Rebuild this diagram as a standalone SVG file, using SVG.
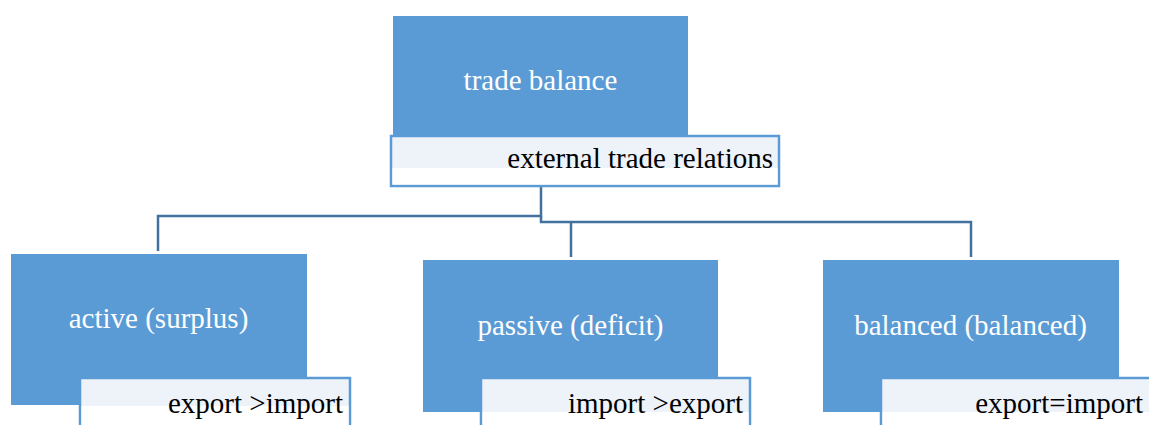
<svg xmlns="http://www.w3.org/2000/svg" width="1149" height="425" viewBox="0 0 1149 425">
<style>
.main{fill:#5B9BD5}
.sub{fill:#EEF3FA;stroke:#5B9BD5;stroke-width:2.5}
.white{fill:#FFFFFF}
.wt{font-family:"Liberation Serif",serif;font-size:29px;fill:#FFFFFF;text-anchor:middle}
.bt{font-family:"Liberation Serif",serif;font-size:29px;fill:#000000;text-anchor:end}
.conn{fill:none;stroke:#41719C;stroke-width:2.5}
</style>
<rect width="1149" height="425" fill="#FFFFFF"/>
<g id="connectors">
<polyline class="conn" points="541,168 541,216 158,216 158,251"/>
<polyline class="conn" points="541,216 541,222 971,222 971,257"/>
<line class="conn" x1="571" y1="222" x2="571" y2="257"/>
</g>
<g id="node-top">
<rect class="main" x="393" y="16" width="295" height="120"/>
<rect class="sub" x="391" y="136" width="388" height="50"/>
<rect class="white" x="392.5" y="168" width="385" height="16.5"/>
<text class="wt" x="540.5" y="90">trade balance</text>
<text class="bt" x="773" y="168">external trade relations</text>
</g>
<g id="node-active">
<rect class="main" x="11" y="254" width="296" height="151"/>
<rect class="sub" x="80" y="378" width="270" height="60"/>
<rect class="white" x="81.5" y="406" width="267" height="25"/>
<text class="wt" x="158.5" y="328">active (surplus)</text>
<text class="bt" x="343" y="413">export &gt;import</text>
</g>
<g id="node-passive">
<rect class="main" x="423" y="260" width="295" height="152"/>
<rect class="sub" x="481" y="378" width="269" height="60"/>
<rect class="white" x="482.5" y="412" width="266" height="20"/>
<text class="wt" x="570.5" y="335">passive (deficit)</text>
<text class="bt" x="743" y="413">import &gt;export</text>
</g>
<g id="node-balanced">
<rect class="main" x="823" y="260" width="296" height="152"/>
<rect class="sub" x="881" y="378" width="280" height="60"/>
<rect class="white" x="882.5" y="412" width="270" height="20"/>
<text class="wt" x="970.5" y="335">balanced (balanced)</text>
<text class="bt" x="1143" y="413">export=import</text>
</g>
</svg>
